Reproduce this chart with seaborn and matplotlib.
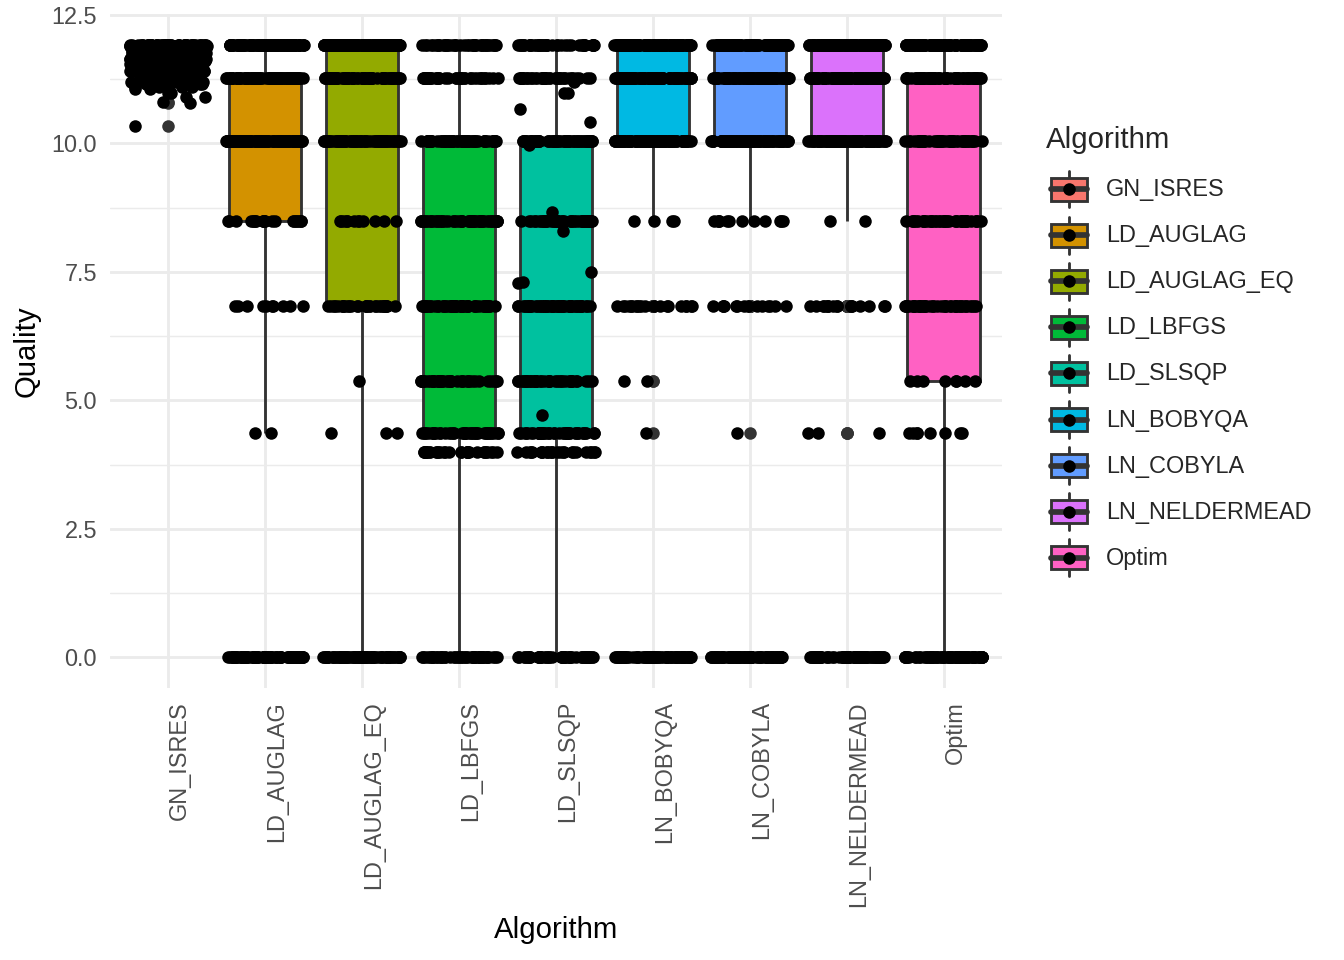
import numpy as np
import pandas as pd
import matplotlib
matplotlib.use("Agg")
import matplotlib.pyplot as plt
import seaborn as sns
from matplotlib.legend_handler import HandlerBase
from matplotlib.patches import Rectangle, Patch
from matplotlib.lines import Line2D
from matplotlib.ticker import MultipleLocator

# ---------------- data ----------------
algorithms = ["GN_ISRES", "LD_AUGLAG", "LD_AUGLAG_EQ", "LD_LBFGS", "LD_SLSQP",
              "LN_BOBYQA", "LN_COBYLA", "LN_NELDERMEAD", "Optim"]
palette = ["#F8766D", "#D39200", "#93AA00", "#00BA38", "#00C19F",
           "#00B9E3", "#619CFF", "#DB72FB", "#FF61C3"]

# quality values that the local/other solvers land on, and how many runs hit each
quality_levels = [0.0, 4.0, 4.36, 5.37, 6.83, 8.49, 10.05, 11.27, 11.92]

counts_ld_auglag     = [85, 0, 2, 0, 10, 22, 100, 90, 91]
counts_ld_auglag_eq  = [80, 0, 3, 1, 30, 12, 70, 70, 134]
counts_ld_lbfgs      = [50, 30, 40, 40, 50, 50, 60, 40, 40]
counts_ld_slsqp      = [50, 25, 40, 40, 50, 45, 60, 40, 40]
counts_ln_bobyqa     = [70, 0, 1, 2, 20, 4, 90, 100, 113]
counts_ln_cobyla     = [70, 0, 1, 0, 14, 12, 90, 100, 113]
counts_ln_neldermead = [75, 0, 3, 0, 17, 2, 90, 100, 113]
counts_optim         = [86, 0, 8, 8, 40, 40, 50, 70, 98]

ld_slsqp_extra = [4.71, 7.28, 7.30, 7.50, 8.29, 8.66, 9.97, 10.42, 10.67,
                  10.97, 10.97, 11.20]

# GN_ISRES gives nearly continuous values near the top
gn_isres_levels = [10.34, 10.79, 10.80, 10.91, 10.98, 11.05, 11.10, 11.15,
                   11.20, 11.25, 11.30, 11.35, 11.40, 11.45, 11.50, 11.55,
                   11.60, 11.65, 11.70, 11.75, 11.80, 11.85, 11.90, 11.92]
gn_isres_counts = [1, 1, 1, 2, 2, 3, 4, 5, 6, 8, 10, 12, 14, 16, 18, 20,
                   22, 24, 26, 30, 34, 40, 50, 51]

count_table = {
    "LD_AUGLAG": counts_ld_auglag,
    "LD_AUGLAG_EQ": counts_ld_auglag_eq,
    "LD_LBFGS": counts_ld_lbfgs,
    "LD_SLSQP": counts_ld_slsqp,
    "LN_BOBYQA": counts_ln_bobyqa,
    "LN_COBYLA": counts_ln_cobyla,
    "LN_NELDERMEAD": counts_ln_neldermead,
    "Optim": counts_optim,
}

rows = []
for v in np.repeat(gn_isres_levels, gn_isres_counts):
    rows.append(("GN_ISRES", float(v)))
for alg, cnts in count_table.items():
    for v in np.repeat(quality_levels, cnts):
        rows.append((alg, float(v)))
for v in ld_slsqp_extra:
    rows.append(("LD_SLSQP", v))
df = pd.DataFrame(rows, columns=["Algorithm", "Quality"])

# ---------------- style ----------------
sns.set_theme(style="white")
plt.rcParams["font.family"] = ["Liberation Sans", "DejaVu Sans"]

GREY = "#333333"
GRID = "#EBEBEB"
LW = 1.07
DOT = 4.7

fig = plt.figure(figsize=(7, 5), dpi=192)
ax = fig.add_axes([110 / 1344, 1 - 688 / 960, (1002 - 110) / 1344, (688 - 14) / 960])

sns.boxplot(data=df, x="Algorithm", y="Quality", hue="Algorithm", order=algorithms,
            hue_order=algorithms, palette=palette, saturation=1, width=0.75,
            linecolor=GREY, linewidth=LW, showcaps=False, whis=1.5, legend=False,
            flierprops=dict(marker="o", markerfacecolor=GREY, markeredgecolor=GREY,
                            markersize=DOT, markeredgewidth=0),
            medianprops=dict(color=GREY, linewidth=LW * 2),
            ax=ax)
np.random.seed(7)
sns.stripplot(data=df, x="Algorithm", y="Quality", order=algorithms, color="black",
              jitter=0.4, size=DOT, linewidth=0, zorder=4, ax=ax)

ax.set_xlim(-0.6, 8.6)
ax.set_ylim(-0.596, 12.516)
ax.yaxis.set_minor_locator(MultipleLocator(1.25))
ax.set_yticks([0, 2.5, 5, 7.5, 10, 12.5])
ax.set_yticklabels(["0.0", "2.5", "5.0", "7.5", "10.0", "12.5"])
ax.set_axisbelow(True)
ax.grid(True, which="major", axis="both", color=GRID, linewidth=LW)
ax.grid(True, which="minor", axis="y", color=GRID, linewidth=LW / 2)
for s in ax.spines.values():
    s.set_visible(False)
ax.tick_params(axis="both", which="both", length=0, pad=4.9, labelsize=8.8,
               labelcolor="#4D4D4D")
plt.setp(ax.get_xticklabels(), rotation=90, ha="left", va="top")
ax.set_xlabel("Algorithm", fontsize=11, color="black", labelpad=3.4)
ax.set_ylabel("Quality", fontsize=11, color="black", labelpad=4.2)


class BoxKeyHandler(HandlerBase):
    def create_artists(self, legend, orig_handle, xdescent, ydescent, width,
                       height, fontsize, trans):
        face = orig_handle.get_facecolor()
        x0, y0 = -xdescent, -ydescent
        w, h = width, height
        whisk = Line2D([x0 + 0.5 * w] * 2, [y0 + 0.1 * h, y0 + 0.9 * h],
                       color=GREY, lw=LW, transform=trans)
        rect = Rectangle((x0 + 0.1 * w, y0 + 0.25 * h), 0.8 * w, 0.5 * h,
                         facecolor=face, edgecolor=GREY, lw=LW, transform=trans)
        med = Line2D([x0 + 0.1 * w, x0 + 0.9 * w], [y0 + 0.5 * h] * 2,
                     color=GREY, lw=LW * 2, transform=trans)
        dot = Line2D([x0 + 0.5 * w], [y0 + 0.5 * h], marker="o", markersize=DOT,
                     color="black", lw=0, markeredgewidth=0, transform=trans)
        return [whisk, rect, med, dot]


handles = [Patch(facecolor=c) for c in palette]
leg = fig.legend(handles, algorithms, handler_map={Patch: BoxKeyHandler()},
                 title="Algorithm", loc="upper left",
                 bbox_to_anchor=(1046 / 1344, 1 - 126 / 960), frameon=False,
                 fontsize=8.8, title_fontsize=11, handlelength=1.96,
                 handleheight=2.645, labelspacing=0.0, handletextpad=0.6,
                 borderpad=0, borderaxespad=0, alignment="left")
leg._legend_box.sep = 4.5

fig.savefig("out.png", dpi=192)
